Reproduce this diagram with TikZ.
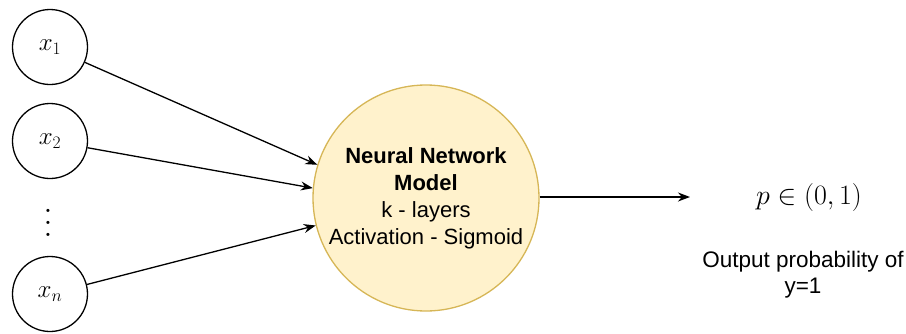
\RequirePackage{fix-cm}
\documentclass[tikz,border=0pt]{standalone}
\usepackage{fontspec}
\setsansfont{Liberation Sans}
\usetikzlibrary{arrows.meta}
\definecolor{nnfill}{HTML}{FFF2CC}
\definecolor{nnline}{HTML}{D6B656}
\begin{document}
\begin{tikzpicture}[x=1pt,y=-1pt,
  input/.style={circle,draw,line width=1.3pt,minimum size=75pt,inner sep=0pt,font=\fontsize{25}{29}\selectfont},
  model/.style={circle,draw=nnline,fill=nnfill,line width=1.3pt,minimum size=226pt,inner sep=0pt,align=center,font=\sffamily\fontsize{22}{27}\selectfont},
  link/.style={line width=1.3pt,-{Stealth[length=12pt,width=9pt]}},
  caption/.style={align=center,font=\sffamily\fontsize{22.5}{26}\selectfont}]
\useasboundingbox (0,0) rectangle (906,333);
% input nodes
\node[input] (x1) at (50,47) {$x_1$};
\node[input] (x2) at (50,141) {$x_2$};
\node[input] (xn) at (50,294) {$x_n$};
\node[inner sep=0pt] (dots) at (48,214) {\scalebox{3}{$\vdots$}};
% model
\node[model] (nn) at (426,198) {\textbf{Neural Network}\\\textbf{Model}\\k - layers\\Activation - Sigmoid};
% output
\coordinate (out) at (690,197);
\node (p) at (809,197) {\fontsize{28}{32}\selectfont$p\in(0,1)$};
\node[caption] (cap) at (803,275) {Output probability of\\y=1};
% connectors
\draw[link] (x1) -- (nn.163);
\draw[link] (x2) -- (nn.175);
\draw[link] (xn) -- (nn.194);
\draw[link] (nn.east |- out) -- (out);
\end{tikzpicture}
\end{document}
